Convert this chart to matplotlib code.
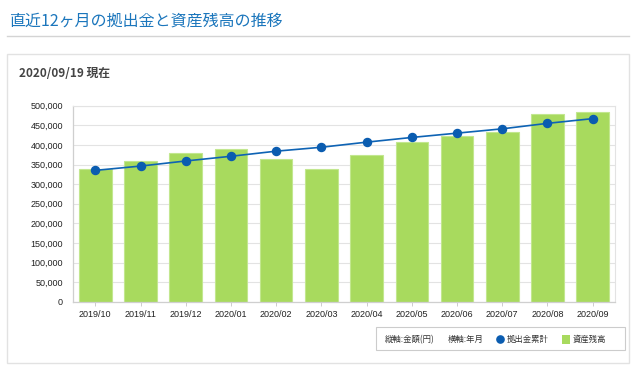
import matplotlib
matplotlib.use('Agg')
import matplotlib.pyplot as plt
from matplotlib.patches import Rectangle
from matplotlib.lines import Line2D
from matplotlib.ticker import FuncFormatter, MultipleLocator

# data
months = ['2019/10', '2019/11', '2019/12', '2020/01', '2020/02', '2020/03',
          '2020/04', '2020/05', '2020/06', '2020/07', '2020/08', '2020/09']
assets = [339000, 360000, 380000, 389000, 363000, 339000,
          374000, 407000, 422000, 432000, 478000, 485000]
contrib = [335000, 346000, 359000, 371000, 384000, 394000,
           407000, 419000, 430000, 441000, 455000, 467000]

title = '直近12ヶ月の拠出金と資産残高の推移'
subtitle = '2020/09/19 現在'

W, H = 640, 370
plt.rcParams['font.family'] = ['Liberation Sans', 'Noto Sans CJK JP', 'DejaVu Sans']
JP = ['Noto Sans CJK JP', 'DejaVu Sans']


def fx(px):
    return px / W


def fy(py):
    return 1 - py / H


fig = plt.figure(figsize=(6.4, 3.7), dpi=100)
fig.patch.set_facecolor('white')

# header
fig.text(fx(9), fy(21), title, fontsize=11.5, color='#1b76bc', va='center', family=JP)
fig.add_artist(Line2D([fx(6.5), fx(629)], [fy(36), fy(36)], color='#d4d4d4', lw=1.0))

# panel
fig.add_artist(Rectangle((fx(6.5), fy(362.5)), fx(629) - fx(6.5), fy(53.5) - fy(362.5),
                         facecolor='none', edgecolor='#e2e2e2', lw=1.0))
fig.text(fx(19), fy(73.5), subtitle, fontsize=8.5, fontweight='bold', color='#444444',
         va='center', family=JP)

# chart
ax = fig.add_axes([fx(72.7), fy(301.7), fx(615.3) - fx(72.7), fy(105.7) - fy(301.7)])
x = list(range(len(months)))
ax.bar(x, assets, width=0.72, color='#a8da5e', edgecolor='#c2e78f', linewidth=0.8, zorder=2)
ax.plot(x, contrib, color='#0e63b4', lw=1.2, marker='o', markersize=5.8,
        markerfacecolor='#0a5cb0', markeredgecolor='#0a5cb0', zorder=3)

ax.set_xlim(-0.5, len(months) - 0.5)
ax.set_ylim(0, 500000)
ax.yaxis.set_major_locator(MultipleLocator(50000))
ax.yaxis.set_major_formatter(FuncFormatter(lambda v, p: f'{int(v):,}'))
ax.set_xticks(x)
ax.set_xticklabels(months)
ax.grid(axis='y', color='#e3e3e3', lw=0.8, zorder=0)
ax.set_axisbelow(True)
for side in ['top', 'right']:
    ax.spines[side].set_color('#e3e3e3')
    ax.spines[side].set_linewidth(0.8)
for side in ['left', 'bottom']:
    ax.spines[side].set_color('#cfcfcf')
    ax.spines[side].set_linewidth(0.9)
ax.tick_params(axis='y', length=0, pad=7, labelsize=6.5, labelcolor='#222222')
ax.tick_params(axis='x', length=3, width=0.7, color='#cccccc', pad=3,
               labelsize=6.5, labelcolor='#222222')

# legend
fig.add_artist(Rectangle((fx(375.7), fy(350)), fx(625) - fx(375.7), fy(327.3) - fy(350),
                         facecolor='white', edgecolor='#cccccc', lw=0.8))
ly = fy(339.3)
fig.text(fx(385), ly, '縦軸:金額(円)', fontsize=6, color='#333333', va='center', family=JP)
fig.text(fx(448), ly, '横軸:年月', fontsize=6, color='#333333', va='center', family=JP)
fig.add_artist(Line2D([fx(500)], [ly], marker='o', markersize=5.2, color='#0a5cb0', lw=0))
fig.text(fx(506.5), ly, '拠出金累計', fontsize=6, color='#333333', va='center', family=JP)
fig.add_artist(Rectangle((fx(561.5), fy(343.5)), fx(570) - fx(561.5), fy(335.2) - fy(343.5),
                         facecolor='#a8da5e', edgecolor='none'))
fig.text(fx(573), ly, '資産残高', fontsize=6, color='#333333', va='center', family=JP)

fig.savefig('out.png', dpi=100)
